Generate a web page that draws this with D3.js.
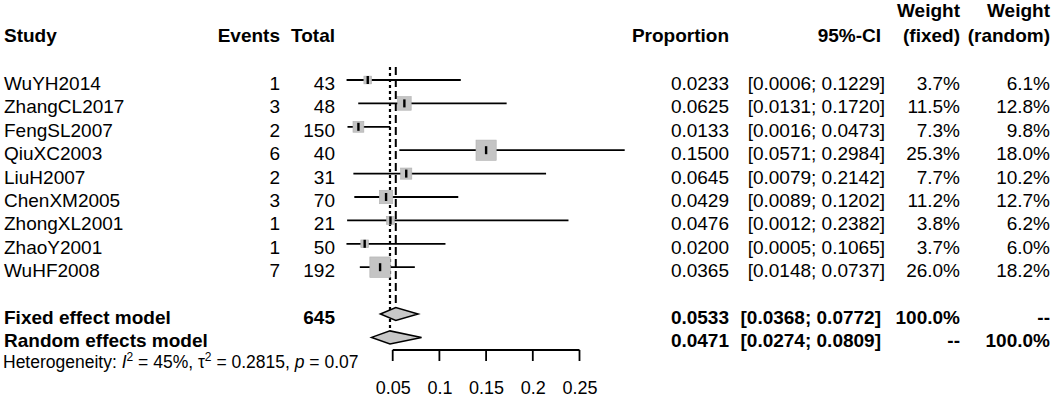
<!DOCTYPE html>
<html>
<head>
<meta charset="utf-8">
<script src="https://cdn.jsdelivr.net/npm/d3@7"></script>
<style>
	body { margin: 0; background: #fff; }
	svg { font-family: "Liberation Sans", Arial, sans-serif; }
</style>
</head>
<body>
<div id="chart-area"></div>
<script>
// study level data
let studies = ["WuYH2014", "ZhangCL2017", "FengSL2007", "QiuXC2003", "LiuH2007", "ChenXM2005", "ZhongXL2001", "ZhaoY2001", "WuHF2008"];
let events = [1, 3, 2, 6, 2, 3, 1, 1, 7];
let totals = [43, 48, 150, 40, 31, 70, 21, 50, 192];
let proportions = [0.0233, 0.0625, 0.0133, 0.1500, 0.0645, 0.0429, 0.0476, 0.0200, 0.0365];
let ciLower = [0.0006, 0.0131, 0.0016, 0.0571, 0.0079, 0.0089, 0.0012, 0.0005, 0.0148];
let ciUpper = [0.1229, 0.1720, 0.0473, 0.2984, 0.2142, 0.1202, 0.2382, 0.1065, 0.0737];
let weightFixed = [3.7, 11.5, 7.3, 25.3, 7.7, 11.2, 3.8, 3.7, 26.0];
let weightRandom = [6.1, 12.8, 9.8, 18.0, 10.2, 12.7, 6.2, 6.0, 18.2];

// pooled estimates
let modelNames = ["Fixed effect model", "Random effects model"];
let modelEst = [0.0533, 0.0471];
let modelLower = [0.0368, 0.0274];
let modelUpper = [0.0772, 0.0809];
let modelWFixed = ["100.0%", "--"];
let modelWRandom = ["--", "100.0%"];
let totalN = 645;

let tickValues = [0.05, 0.1, 0.15, 0.2, 0.25];

drawForest();

function drawForest() {
	let width = 1059, height = 398;

	let svg = d3.select("#chart-area").append("svg")
		.attr("width", width)
		.attr("height", height);

	let fmt4 = d3.format(".4f");
	let fmtPct = d => d.toFixed(1) + "%";

	// row positions
	let rowY = i => 80 + 23.4 * i;
	let fontSize = 19;

	let x = d3.scaleLinear()
		.domain([0, 0.25])
		.range([346, 579.5]);

	let boxSize = d3.scaleSqrt()
		.domain([0, 26])
		.range([0, 20.5]);

	// column right edges
	let col = {study: 4, events: 280, total: 335, prop: 729, ci: 885, wf: 960, wr: 1050};

	// header
	let header = svg.append("g")
		.attr("font-weight", "bold")
		.attr("font-size", fontSize);
	header.append("text").attr("x", col.study).attr("y", 41.5).text("Study");
	header.append("text").attr("x", col.events).attr("y", 41.5).attr("text-anchor", "end").text("Events");
	header.append("text").attr("x", col.total).attr("y", 41.5).attr("text-anchor", "end").text("Total");
	header.append("text").attr("x", col.prop).attr("y", 41.5).attr("text-anchor", "end").text("Proportion");
	header.append("text").attr("x", 881).attr("y", 41.5).attr("text-anchor", "end").text("95%-CI");
	header.append("text").attr("x", col.wf).attr("y", 17).attr("text-anchor", "end").text("Weight");
	header.append("text").attr("x", col.wf).attr("y", 41.5).attr("text-anchor", "end").text("(fixed)");
	header.append("text").attr("x", col.wr).attr("y", 17).attr("text-anchor", "end").text("Weight");
	header.append("text").attr("x", col.wr).attr("y", 41.5).attr("text-anchor", "end").text("(random)");

	// summary vertical lines (dashed = fixed, dotted = random)
	let yTop = rowY(0) - 13;
	svg.append("line")
		.attr("x1", x(modelEst[0])).attr("x2", x(modelEst[0]))
		.attr("y1", yTop).attr("y2", rowY(10) - 6)
		.attr("stroke", "#000").attr("stroke-width", 2)
		.attr("stroke-dasharray", "8,4");
	svg.append("line")
		.attr("x1", x(modelEst[1])).attr("x2", x(modelEst[1]))
		.attr("y1", yTop).attr("y2", rowY(11) - 6)
		.attr("stroke", "#000").attr("stroke-width", 2.2)
		.attr("stroke-dasharray", "3,3");

	// study rows
	let rows = svg.selectAll(".study-row")
		.data(studies)
		.enter()
		.append("g")
		.attr("class", "study-row")
		.attr("font-size", fontSize);

	rows.append("text").attr("x", col.study).attr("y", (d, i) => rowY(i) + 10).text(d => d);
	rows.append("text").attr("x", col.events).attr("y", (d, i) => rowY(i) + 10).attr("text-anchor", "end").text((d, i) => events[i]);
	rows.append("text").attr("x", col.total).attr("y", (d, i) => rowY(i) + 10).attr("text-anchor", "end").text((d, i) => totals[i]);
	rows.append("text").attr("x", col.prop).attr("y", (d, i) => rowY(i) + 10).attr("text-anchor", "end").text((d, i) => fmt4(proportions[i]));
	rows.append("text").attr("x", col.ci).attr("y", (d, i) => rowY(i) + 10).attr("text-anchor", "end")
		.text((d, i) => "[" + fmt4(ciLower[i]) + "; " + fmt4(ciUpper[i]) + "]");
	rows.append("text").attr("x", col.wf).attr("y", (d, i) => rowY(i) + 10).attr("text-anchor", "end").text((d, i) => fmtPct(weightFixed[i]));
	rows.append("text").attr("x", col.wr).attr("y", (d, i) => rowY(i) + 10).attr("text-anchor", "end").text((d, i) => fmtPct(weightRandom[i]));

	// CI lines
	rows.append("line")
		.attr("x1", (d, i) => x(ciLower[i]))
		.attr("x2", (d, i) => x(ciUpper[i]))
		.attr("y1", (d, i) => rowY(i))
		.attr("y2", (d, i) => rowY(i))
		.attr("stroke", "#000")
		.attr("stroke-width", 1.8);

	// weight squares
	rows.append("rect")
		.attr("x", (d, i) => x(proportions[i]) - boxSize(weightFixed[i]) / 2)
		.attr("y", (d, i) => rowY(i) - boxSize(weightFixed[i]) / 2)
		.attr("width", (d, i) => boxSize(weightFixed[i]))
		.attr("height", (d, i) => boxSize(weightFixed[i]))
		.attr("fill", "#c4c4c4")
		.attr("stroke", "#b0b0b0")
		.attr("stroke-width", 0.6);

	// estimate ticks
	rows.append("line")
		.attr("x1", (d, i) => x(proportions[i]))
		.attr("x2", (d, i) => x(proportions[i]))
		.attr("y1", (d, i) => rowY(i) - 4)
		.attr("y2", (d, i) => rowY(i) + 4)
		.attr("stroke", "#000")
		.attr("stroke-width", 2.4);

	// pooled rows
	let models = svg.selectAll(".model-row")
		.data(modelNames)
		.enter()
		.append("g")
		.attr("class", "model-row")
		.attr("font-size", fontSize)
		.attr("font-weight", "bold");

	let my = i => rowY(10 + i);

	models.append("text").attr("x", col.study).attr("y", (d, i) => my(i) + 10).text(d => d);
	models.append("text").attr("x", col.total).attr("y", (d, i) => my(i) + 10).attr("text-anchor", "end").text((d, i) => i === 0 ? totalN : "");
	models.append("text").attr("x", col.prop).attr("y", (d, i) => my(i) + 10).attr("text-anchor", "end").text((d, i) => fmt4(modelEst[i]));
	models.append("text").attr("x", 881).attr("y", (d, i) => my(i) + 10).attr("text-anchor", "end")
		.text((d, i) => "[" + fmt4(modelLower[i]) + "; " + fmt4(modelUpper[i]) + "]");
	models.append("text").attr("x", col.wf).attr("y", (d, i) => my(i) + 10).attr("text-anchor", "end").text((d, i) => modelWFixed[i]);
	models.append("text").attr("x", col.wr).attr("y", (d, i) => my(i) + 10).attr("text-anchor", "end").text((d, i) => modelWRandom[i]);

	// diamonds
	models.append("path")
		.attr("d", (d, i) => {
			let y = my(i);
			return "M" + x(modelLower[i]) + "," + y +
				"L" + x(modelEst[i]) + "," + (y - 6.5) +
				"L" + x(modelUpper[i]) + "," + y +
				"L" + x(modelEst[i]) + "," + (y + 6.5) + "Z";
		})
		.attr("fill", "#c8c8c8")
		.attr("stroke", "#000")
		.attr("stroke-width", 1.5);

	// heterogeneity
	let het = svg.append("text")
		.attr("x", 3)
		.attr("y", 367.5)
		.attr("font-size", 17.5);
	het.append("tspan").text("Heterogeneity: ");
	het.append("tspan").attr("font-style", "italic").text("I");
	het.append("tspan").attr("dy", -7).attr("font-size", 12).text("2");
	het.append("tspan").attr("dy", 7).text(" = 45%, \u03c4");
	het.append("tspan").attr("dy", -7).attr("font-size", 12).text("2");
	het.append("tspan").attr("dy", 7).text(" = 0.2815, ");
	het.append("tspan").attr("font-style", "italic").text("p");
	het.append("tspan").text(" = 0.07");

	// x axis: labels from d3.axisBottom, line and ticks drawn from the same scale
	let axisY = 350;
	let xAxis = d3.axisBottom(x)
		.tickValues(tickValues)
		.tickFormat(d3.format("~g"))
		.tickSize(0)
		.tickPadding(31);

	let axisG = svg.append("g")
		.attr("class", "axis x-axis")
		.attr("transform", "translate(0," + axisY + ")")
		.call(xAxis);

	axisG.select(".domain").remove();
	axisG.selectAll(".tick line").remove();
	axisG.selectAll(".tick text")
		.attr("font-size", 18)
		.attr("font-family", "Liberation Sans, Arial, sans-serif")
		.attr("fill", "#000");

	svg.append("path")
		.attr("d", "M" + x(tickValues[0]) + "," + axisY + "H" + x(tickValues[tickValues.length - 1]))
		.attr("stroke", "#000")
		.attr("stroke-width", 1.8)
		.attr("fill", "none");

	svg.selectAll(".x-tick")
		.data(tickValues)
		.enter()
		.append("line")
		.attr("class", "x-tick")
		.attr("x1", d => x(d))
		.attr("x2", d => x(d))
		.attr("y1", axisY)
		.attr("y2", axisY + 11)
		.attr("stroke", "#000")
		.attr("stroke-width", 1.8);
}
</script>
</body>
</html>
